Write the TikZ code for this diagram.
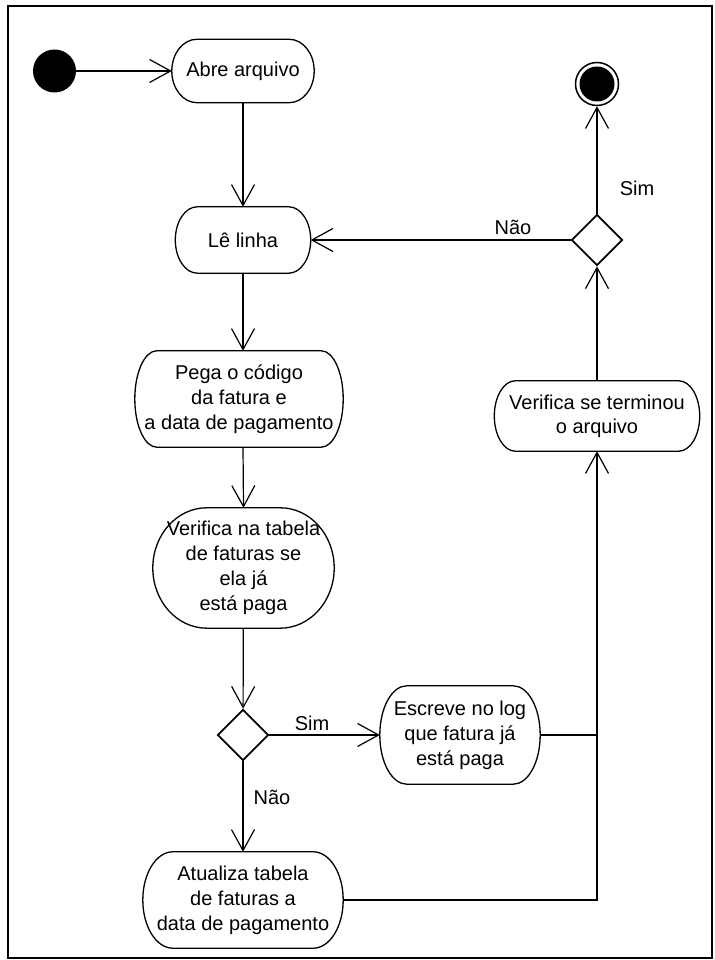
\documentclass[tikz,border=0pt]{standalone}
\usepackage{fontspec}
\setmainfont{Liberation Sans}
\usetikzlibrary{arrows.meta,calc,shapes.geometric}

\tikzset{
  act/.style={draw=none, inner sep=0pt, align=center,
              font=\fontsize{20}{25}\selectfont},
  actline/.style={line width=1.3pt},
  flow/.style={line width=1.2pt, -{Straight Barb[length=21pt,width=23pt]}},
  plain/.style={line width=1.2pt},
  decision/.style={diamond, draw, line width=1.8pt, minimum width=51pt,
                   minimum height=51pt, inner sep=0pt},
  guard/.style={font=\fontsize{20}{25}\selectfont, inner sep=0pt},
}

% Activity outline: flat top and bottom, half-ellipse ends of x radius #2
\newcommand\actoutline[2]{%
  \draw[actline] let \p1=(#1.north west), \p2=(#1.south east),
                     \n1={(\y1-\y2)/2} in
    (\x1+#2pt,\y1) -- (\x2-#2pt,\y1)
    arc[start angle=90, end angle=-90, x radius=#2pt, y radius=\n1]
    -- (\x1+#2pt,\y2)
    arc[start angle=270, end angle=90, x radius=#2pt, y radius=\n1] -- cycle;}

\begin{document}
\begin{tikzpicture}[x=1pt,y=1pt]
\useasboundingbox (0,0) rectangle (714,960);
\draw[line width=1.8pt] (8,2) rectangle (712,954);

% initial and final states
\node[circle, fill=black, minimum size=43pt, inner sep=0pt] (ini) at (54.5,889) {};
\node[circle, draw, line width=1.5pt, minimum size=43pt, inner sep=0pt] (fin) at (597,876) {};
\fill (fin.center) circle[radius=17.5];

% activities
\node[act, minimum width=142pt, minimum height=63pt] (abre) at (243,889) {Abre arquivo};
\node[act, minimum width=135pt, minimum height=66pt] (le) at (243,720) {Lê linha};
\node[act, minimum width=208pt, minimum height=96pt] (pega) at (239,561)
  {Pega o código\\da fatura e\\a data de pagamento};
\node[act, minimum width=181pt, minimum height=120pt] (vtab) at (243.5,392)
  {Verifica na tabela\\de faturas se\\ela já\\está paga};
\node[act, minimum width=160pt, minimum height=98pt] (esc) at (460,225)
  {Escreve no log\\que fatura já\\está paga};
\node[act, minimum width=200pt, minimum height=96pt] (atu) at (243,60)
  {Atualiza tabela\\de faturas a\\data de pagamento};
\node[act, minimum width=205pt, minimum height=70pt,
      font=\fontsize{20}{24}\selectfont] (term) at (597,544)
  {Verifica se terminou\\o arquivo};

\actoutline{abre}{25}
\actoutline{le}{22}
\actoutline{pega}{22}
\actoutline{vtab}{54}
\actoutline{esc}{27}
\actoutline{atu}{30}
\actoutline{term}{21}

% decisions
\node[decision] (d1) at (243,225) {};
\node[decision] (d2) at (597,720) {};

% guards
\node[guard] (g1) at (312,237) {Sim};
\node[guard] (g2) at (272,163) {Não};
\node[guard] (g3) at (637,772) {Sim};
\node[guard] (g4) at (513,733) {Não};

% flows
\draw[flow] (ini) -- (abre);
\draw[flow] (abre) -- (le);
\draw[flow] (le.south) -- (le.south |- pega.north);
\draw[flow] (le.south |- pega.south) -- (vtab.north);
\draw[flow] (vtab) -- (d1);
\draw[flow] (d1) -- (esc);
\draw[flow] (d1) -- (atu);
\draw[plain] (esc.east) -- (esc.east -| term.south);
\draw[flow] (atu.east) -| (term.south);
\draw[flow] (term) -- (d2);
\draw[flow] (d2) -- (le);
\draw[flow] (d2) -- (fin);
\end{tikzpicture}
\end{document}
